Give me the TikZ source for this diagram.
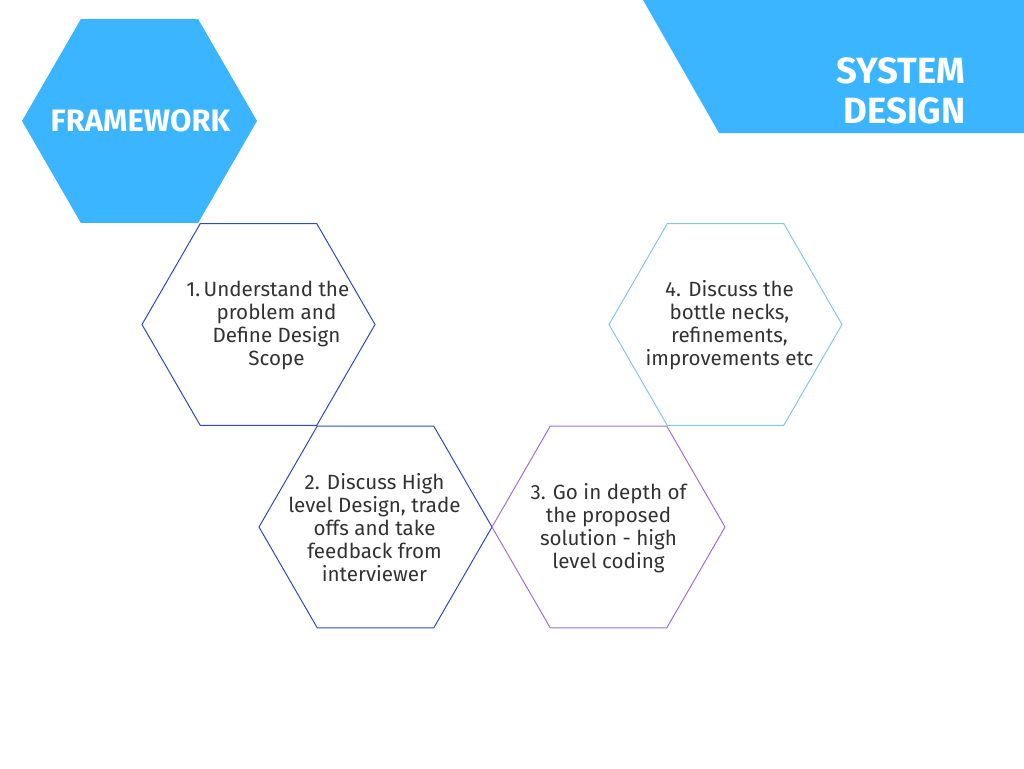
\documentclass[tikz,border=0pt]{standalone}
\usepackage{fontspec}
\usepackage{xcolor}
\usepackage{tikz}
\usetikzlibrary{shapes.geometric}
\setmainfont{Fira Sans}
\definecolor{skyblue}{RGB}{59,181,255}
\definecolor{deepblue}{RGB}{47,73,190}
\definecolor{lilac}{RGB}{160,112,216}
\definecolor{paleblue}{RGB}{134,197,238}
\definecolor{inkgray}{RGB}{50,50,50}
\tikzset{
  hexa/.style={regular polygon,regular polygon sides=6,inner sep=0pt,line width=1pt},
  steptext/.style={align=center,text=inkgray,font=\fontsize{20.6}{23}\selectfont},
  titletext/.style={text=white,font=\bfseries\fontsize{31}{40}\selectfont}
}
\begin{document}
\begin{tikzpicture}[x=1pt,y=-1pt]
        \useasboundingbox (0,0) rectangle (1024,768);
        % Banner
        \fill[skyblue] (643,0) -- (1024,0) -- (1024,133) -- (719,133) -- cycle;
        \node[titletext,font=\bfseries\fontsize{36.5}{40}\selectfont,align=right,anchor=east] (sysdesign) at (969,91) {SYSTEM\\DESIGN};
        % Framework hexagon
        \node[hexa,fill=skyblue,minimum size=235pt] (framework) at (139.5,121) {};
        \node[titletext] (frameworktext) at (140.5,121) {FRAMEWORK};
        % Steps
        \node[hexa,draw=deepblue,minimum size=233pt] (hex1) at (258.5,324.5) {};
        \node[hexa,draw=deepblue,minimum size=233pt] (hex2) at (375.5,527) {};
        \node[hexa,draw=lilac,minimum size=233pt] (hex3) at (608.5,527) {};
        \node[hexa,draw=paleblue,minimum size=233pt] (hex4) at (725.5,324.5) {};
        \node[steptext] (step1) at (276.5,325) {\llap{1.\,}Understand the\\problem and\\Define Design\\Scope};
        \node[steptext] (step2) at (374.5,528) {2. Discuss High\\level Design, trade\\offs and take\\feedback from\\interviewer};
        \node[steptext] (step3) at (608.5,528) {3. Go in depth of\\the proposed\\solution - high\\level coding};
        \node[steptext] (step4) at (729.5,325) {4. Discuss the\\bottle necks,\\refinements,\\improvements etc};
    \end{tikzpicture}
\end{document}
